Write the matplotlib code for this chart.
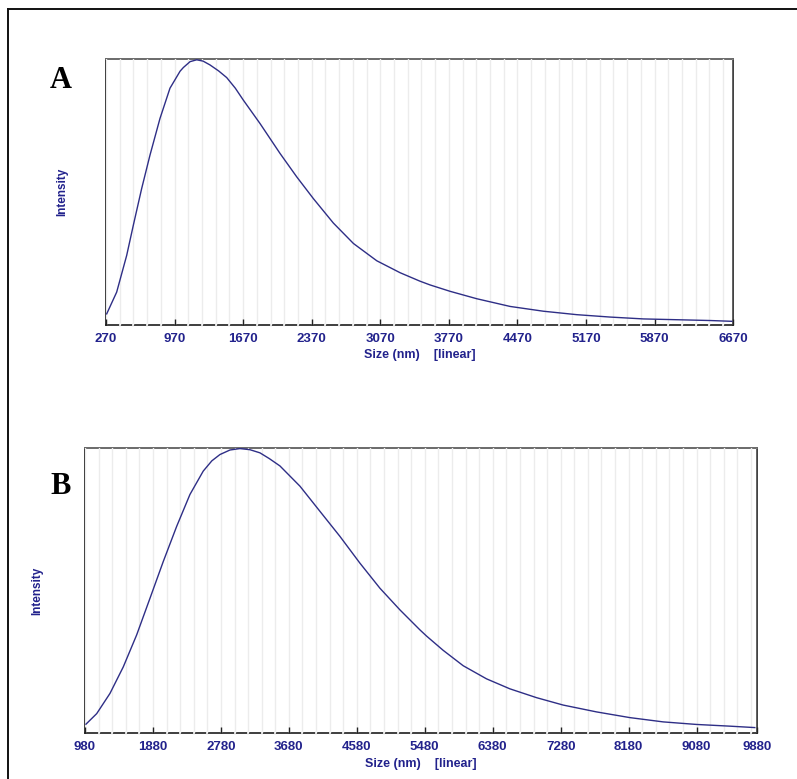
"""Size distribution plots (panels A and B)."""

import matplotlib

matplotlib.use("Agg")

import matplotlib.pyplot as plt
from matplotlib.lines import Line2D
from matplotlib.ticker import FixedLocator, MultipleLocator

# Panel A: size (nm) and normalised intensity
size_a = [277, 379, 481, 549, 634, 719, 821, 923, 1026, 1060, 1128, 1196,
          1261, 1330, 1420, 1502, 1590, 1672, 1842, 2047, 2217, 2387, 2591,
          2796, 3034, 3272, 3476, 3578, 3782, 4055, 4395, 4735, 5076, 5416,
          5756, 6096, 6436, 6658]
intensity_a = [0.040, 0.122, 0.260, 0.374, 0.512, 0.638, 0.776, 0.890, 0.954,
               0.968, 0.990, 0.997, 0.992, 0.978, 0.955, 0.930, 0.890, 0.845,
               0.757, 0.644, 0.556, 0.474, 0.382, 0.305, 0.240, 0.195, 0.163,
               0.149, 0.125, 0.097, 0.068, 0.050, 0.037, 0.028, 0.021, 0.018,
               0.015, 0.012]
ticks_a = [270, 970, 1670, 2370, 3070, 3770, 4470, 5170, 5870, 6670]

# Panel B
size_b = [993, 1135, 1311, 1487, 1664, 1841, 2017, 2194, 2370, 2546, 2660,
          2767, 2900, 3032, 3165, 3297, 3420, 3562, 3827, 4091, 4356, 4621,
          4886, 5151, 5415, 5504, 5724, 5989, 6298, 6607, 6960, 7313, 7755,
          8196, 8637, 9079, 9520, 9851]
intensity_b = [0.031, 0.068, 0.139, 0.232, 0.344, 0.473, 0.602, 0.725, 0.837,
               0.919, 0.955, 0.977, 0.993, 0.998, 0.994, 0.983, 0.963, 0.937,
               0.866, 0.778, 0.690, 0.596, 0.508, 0.432, 0.362, 0.340, 0.290,
               0.236, 0.190, 0.155, 0.124, 0.098, 0.074, 0.054, 0.039, 0.030,
               0.024, 0.019]
ticks_b = [980, 1880, 2780, 3680, 4580, 5480, 6380, 7280, 8180, 9080, 9880]

LINE = "#2e2e86"
TEXT = "#22228c"
GRID = "#ececec"

W, H = 797, 779


def style_panel(ax, ticks, minor_step, ylabel_x):
    lo, hi = ticks[0], ticks[-1]
    ax.set_xlim(lo, hi)
    ax.set_ylim(0, 1.0)
    ax.set_yticks([])

    ax.xaxis.set_major_locator(FixedLocator(ticks))
    ax.xaxis.set_minor_locator(MultipleLocator(minor_step, offset=lo))
    ax.set_xticklabels([str(t) for t in ticks])
    ax.grid(True, which="both", axis="x", color=GRID, linewidth=1.0)
    ax.set_axisbelow(False)

    ax.tick_params(axis="x", which="major", direction="in", length=4,
                   width=1, color="#222222", pad=6, labelsize=9.5,
                   labelcolor=TEXT)
    ax.tick_params(axis="x", which="minor", direction="inout", length=3,
                   width=1.2, color="#f4f4f4")
    for lab in ax.get_xticklabels():
        lab.set_fontweight("bold")

    for side in ("left", "bottom", "right"):
        ax.spines[side].set_color("#1e1e1e")
        ax.spines[side].set_linewidth(1.2)
        ax.spines[side].set_zorder(2)
    ax.spines["top"].set_color("#6a6a6a")
    ax.spines["top"].set_linewidth(1.4)

    ax.set_xlabel("Size (nm)    [linear]", fontsize=9, fontweight="bold",
                  color=TEXT, labelpad=3)
    ax.set_ylabel("Intensity", fontsize=8.5, fontweight="bold", color=TEXT,
                  va="center")
    ax.yaxis.set_label_coords(ylabel_x, 0.5)


plt.rcParams["font.family"] = ["Liberation Sans", "DejaVu Sans"]

fig = plt.figure(figsize=(W / 100, H / 100), dpi=100)

# outer frame (top and left edges are visible)
fig.add_artist(Line2D([8 / W, 1.0], [1 - 9 / H, 1 - 9 / H], color="#111111",
                      linewidth=1.4, transform=fig.transFigure))
fig.add_artist(Line2D([8 / W, 8 / W], [1 - 9 / H, 0.0], color="#111111",
                      linewidth=1.4, transform=fig.transFigure))

ax_a = fig.add_axes([106 / W, 1 - 324.5 / H, 627 / W, 265.5 / H])
ax_a.plot(size_a, intensity_a, color=LINE, linewidth=1.0, zorder=3)
style_panel(ax_a, ticks_a, 140, -0.070)

ax_b = fig.add_axes([85 / W, 1 - 733 / H, 672 / W, 285 / H])
ax_b.plot(size_b, intensity_b, color=LINE, linewidth=1.0, zorder=3)
style_panel(ax_b, ticks_b, 180, -0.071)

fig.text(61 / W, 1 - 81 / H, "A", fontsize=22, fontweight="bold",
         family="Liberation Serif", ha="center", va="center")
fig.text(61 / W, 1 - 487 / H, "B", fontsize=22, fontweight="bold",
         family="Liberation Serif", ha="center", va="center")

fig.savefig("out.png", dpi=100)
plt.close(fig)
